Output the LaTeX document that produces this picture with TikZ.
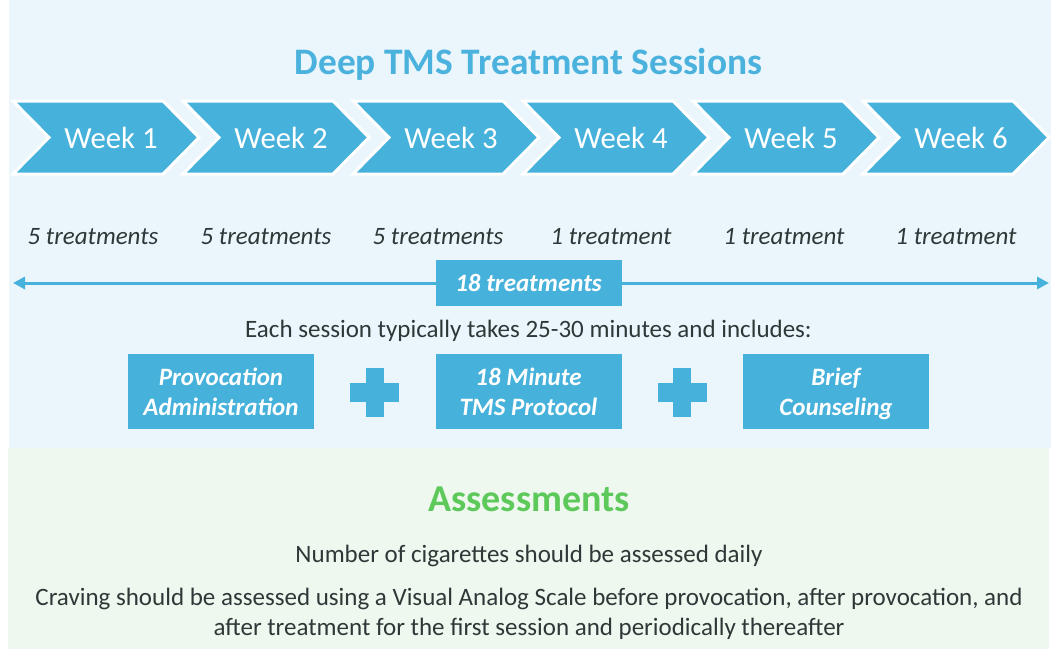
\documentclass[tikz,border=0pt]{standalone}
\usepackage{fontspec}
\setmainfont{Carlito}
\usetikzlibrary{arrows.meta}
\definecolor{tmsblue}{HTML}{46B1DA}
\definecolor{titleblue}{HTML}{4AB2DD}
\definecolor{panelblue}{HTML}{EBF6FC}
\definecolor{panelgreen}{HTML}{EEF8EE}
\definecolor{assgreen}{HTML}{5CC95A}
\definecolor{txt}{HTML}{2F3838}
\newcommand{\topgap}[1]{\rule{0pt}{#1}}
\tikzset{
  chev/.style={draw=white, line width=3pt, fill=tmsblue, line join=miter},
  weeklbl/.style={text=white, font=\fontsize{30.7}{36}\selectfont, anchor=center},
  treat/.style={text=txt, font=\fontsize{25}{29}\selectfont\itshape, anchor=center, yshift=-1pt},
  bluebox/.style={fill=tmsblue, text=white, font=\fontsize{25}{30}\selectfont\bfseries\itshape, minimum width=186pt, minimum height=75pt, align=center, inner sep=0pt},
  plusbar/.style={fill=tmsblue},
  body/.style={text=txt, font=\fontsize{25}{30}\selectfont, align=center, yshift=-2.5pt}
}
\begin{document}
\begin{tikzpicture}[x=1pt,y=-1pt]
\useasboundingbox (0,0) rectangle (1063,656);
\fill[white] (0,0) rectangle (1063,656);
\fill[panelblue] (9,0) rectangle (1051,448);
\fill[panelgreen] (8,448) rectangle (1049,649);
% title
\node[text=titleblue, font=\fontsize{37.4}{42}\selectfont\bfseries] (title) at (528.5,64) {Deep TMS Treatment Sessions};
% chevrons
\foreach \i in {0,...,5}{
  \pgfmathsetmacro{\l}{13+170*\i}
  \draw[chev] (\l,101) -- (\l+150,101) -- (\l+186,137.5) -- (\l+150,174) -- (\l,174) -- (\l+36,137.5) -- cycle;
}
\node[weeklbl] (w1) at (111,138) {Week 1};
\node[weeklbl] (w2) at (281,138) {Week 2};
\node[weeklbl] (w3) at (451,138) {Week 3};
\node[weeklbl] (w4) at (621,138) {Week 4};
\node[weeklbl] (w5) at (791,138) {Week 5};
\node[weeklbl] (w6) at (961,138) {Week 6};
% treatments
\node[treat] (t1) at (93,236) {5 treatments};
\node[treat] (t2) at (266,236) {5 treatments};
\node[treat] (t3) at (438,236) {5 treatments};
\node[treat] (t4) at (611,236) {1 treatment};
\node[treat] (t5) at (784,236) {1 treatment};
\node[treat] (t6) at (956,236) {1 treatment};
% total arrow
\coordinate (aL) at (13,283);
\coordinate (aR) at (1049,283);
\draw[tmsblue, line width=3pt, {Triangle[length=12pt,width=12pt]}-{Triangle[length=12pt,width=12pt]}] (aL) -- (aR);
\node[bluebox, minimum height=46pt] (total) at (528.5,283) {\topgap{25pt}18 treatments\strut};
% session text
\node[body] (each) at (528.5,328) {Each session typically takes 25-30 minutes and includes:};
% boxes
\node[bluebox] (prov) at (221,391.5) {\topgap{27pt}Provocation\strut\\Administration\strut};
\node[bluebox] (proto) at (528.5,391.5) {\topgap{27pt}18 Minute\strut\\TMS Protocol\strut};
\node[bluebox] (coun) at (836,391.5) {\topgap{27pt}Brief\strut\\Counseling\strut};
% plus signs
\foreach \cx in {374.5,682}{
  \fill[plusbar] (\cx-24.5,383) rectangle (\cx+24.5,402);
  \fill[plusbar] (\cx-9,368) rectangle (\cx+9,417);
}
% assessments
\node[text=assgreen, font=\fontsize{38}{43}\selectfont\bfseries] (ass) at (529,499.5) {Assessments};
\node[body] (num) at (529,553) {Number of cigarettes should be assessed daily};
\node[body] (crav) at (529,611) {Craving should be assessed using a Visual Analog Scale before provocation, after provocation, and\\after treatment for the first session and periodically thereafter};
\end{tikzpicture}
\end{document}
